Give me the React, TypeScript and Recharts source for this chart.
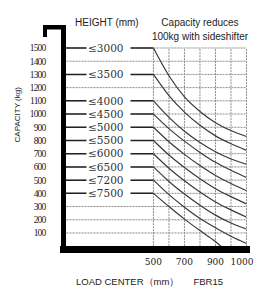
import {
  ComposedChart,
  Line,
  XAxis,
  YAxis,
  CartesianGrid,
  ReferenceLine,
} from "recharts";

// lift height rows (mm) and the rated capacity each one starts at (kg)
const heightLabels = [
  "≤3000",
  "≤3500",
  "≤4000",
  "≤4500",
  "≤5000",
  "≤5500",
  "≤6000",
  "≤6500",
  "≤7200",
  "≤7500",
];
const ratedCapacity = [1500, 1300, 1100, 1000, 900, 800, 700, 600, 500, 400];

const capacityTicks = [
  100, 200, 300, 400, 500, 600, 700, 800, 900, 1000, 1100, 1200, 1300, 1400,
  1500,
];

// load-center gridlines, left to right, and the labels printed under them
const gridCols = [0, 1, 2, 3, 4, 5, 6];
const xTickPos = [0, 2, 4, 6];
const xTickText = ["500", "700", "900", "1000"];

// capacity read at each gridline for every height row
const cap3000 = [1500, 1290, 1130, 1020, 935, 875, 830];
const cap3500 = [1300, 1140, 1015, 915, 835, 775, 725];
const cap4000 = [1100, 975, 870, 785, 715, 660, 620];
const cap4500 = [1000, 890, 795, 710, 635, 575, 520];
const cap5000 = [900, 790, 695, 610, 535, 475, 420];
const cap5500 = [800, 690, 595, 510, 435, 375, 320];
const cap6000 = [700, 590, 495, 410, 335, 275, 220];
const cap6500 = [600, 490, 395, 310, 235, 175, 130];
const cap7200 = [500, 390, 295, 210, 140, 75, 20];
const cap7500 = [400, 300, 205, 118, 35, 0];
const cap7500Pos = [0, 1, 2, 3, 4, 4.35];

const curveValues = [
  cap3000,
  cap3500,
  cap4000,
  cap4500,
  cap5000,
  cap5500,
  cap6000,
  cap6500,
  cap7200,
  cap7500,
];

const AXIS_START = -5.8;
const X_END = 6;

const SERIF = "'Liberation Serif', serif";
const SANS = "'Liberation Sans', Arial, sans-serif";

function AxisDecor(props: any) {
  const vb = props.viewBox || {};
  const right = vb.x + vb.width;
  const cy = vb.y + vb.height * 0.4;
  return (
    <g>
      <rect x={right - 20.5} y={vb.y} width={23} height={4.5} fill="#000" />
      <rect x={right - 20.5} y={vb.y} width={4} height={12} fill="#000" />
      <text
        x={vb.x + 10}
        y={cy}
        transform={`rotate(-90 ${vb.x + 10} ${cy})`}
        textAnchor="middle"
        dominantBaseline="central"
        fontFamily={SANS}
        fontSize={8}
        fill="#222"
      >
        CAPACITY (kg)
      </text>
    </g>
  );
}

function rowLabel(text: string) {
  return (p: any) => {
    if (p.index !== 0) return null;
    return (
      <g key={text}>
        <rect x={p.x + 23} y={p.y - 6} width={44} height={12} fill="#fff" />
        <text
          x={p.x + 24.5}
          y={p.y}
          dy="0.35em"
          fontFamily="'DejaVu Serif', serif"
          fontSize={10.5}
          fill="#333"
        >
          {text}
        </text>
      </g>
    );
  };
}

function XTick(props: any) {
  const { x, y, payload } = props;
  const idx = xTickPos.indexOf(payload.value);
  const text = xTickText[idx] ?? "";
  // the last label sits against the right edge, keep it inside the page
  const last = idx === xTickPos.length - 1;
  return (
    <text
      x={last ? x + 7 : x}
      y={y}
      dy="0.71em"
      textAnchor={last ? "end" : "middle"}
      fontFamily="'DejaVu Serif', serif"
      fontSize={9}
      fill="#222"
    >
      {text}
    </text>
  );
}

export default function App() {
  return (
    <div style={{ position: "relative", width: 246, height: 280 }}>
      <ComposedChart
        width={246}
        height={280}
        margin={{ top: 17, right: 7.5, left: 0, bottom: 18.5 }}
      >
        <CartesianGrid
          vertical={false}
          horizontalValues={capacityTicks}
          stroke="#8a8a8a"
          strokeDasharray="2 1"
        />
        <XAxis
          type="number"
          dataKey="x"
          domain={[AXIS_START, X_END]}
          ticks={xTickPos}
          interval={0}
          axisLine={{ stroke: "#000", strokeWidth: 7, strokeLinecap: "square" }}
          tickLine={false}
          tickSize={0}
          tickMargin={9}
          height={20}
          tick={<XTick />}
          allowDataOverflow
        />
        <YAxis
          type="number"
          domain={[-25, 1674]}
          ticks={capacityTicks}
          interval={0}
          width={55.5}
          axisLine={{ stroke: "#000", strokeWidth: 5 }}
          tickLine={false}
          tickSize={0}
          tickMargin={18}
          tick={{
            fontFamily: SERIF,
            fontSize: 9.5,
            fill: "#222",
            letterSpacing: -0.8,
          }}
          label={<AxisDecor />}
          allowDataOverflow
        />
        {gridCols.map((c) => (
          <ReferenceLine
            key={`v${c}`}
            segment={[
              { x: c, y: 0 },
              { x: c, y: 1500 },
            ]}
            stroke="#8a8a8a"
            strokeDasharray="2 1"
          />
        ))}
        {ratedCapacity.map((q, i) => (
          <Line
            key={`row${i}`}
            data={[
              { x: AXIS_START, y: q },
              { x: 0, y: q },
            ]}
            dataKey="y"
            type="linear"
            stroke="#222"
            strokeWidth={1.5}
            dot={false}
            activeDot={false}
            isAnimationActive={false}
            label={rowLabel(heightLabels[i])}
          />
        ))}
        {curveValues.map((vals, i) => {
          const pos = vals === cap7500 ? cap7500Pos : gridCols;
          return (
            <Line
              key={`curve${i}`}
              data={vals.map((v, j) => ({ x: pos[j], y: v }))}
              dataKey="y"
              type="monotone"
              stroke="#3a3a3a"
              strokeWidth={1.2}
              dot={false}
              activeDot={false}
              isAnimationActive={false}
            />
          );
        })}
      </ComposedChart>

      <div
        style={{
          position: "absolute",
          left: 67,
          top: 9,
          fontFamily: SANS,
          fontSize: 10,
          color: "#222",
          whiteSpace: "nowrap",
        }}
      >
        HEIGHT (mm)
      </div>
      <div
        style={{
          position: "absolute",
          left: 137,
          width: 110,
          top: 8,
          fontFamily: SANS,
          fontSize: 10,
          lineHeight: "14px",
          color: "#222",
          textAlign: "center",
          whiteSpace: "nowrap",
        }}
      >
        Capacity reduces
        <br />
        100kg with sideshifter
      </div>
      <div
        style={{
          position: "absolute",
          left: 68,
          top: 268,
          fontFamily: SANS,
          fontSize: 9.5,
          lineHeight: "11px",
          color: "#222",
          whiteSpace: "nowrap",
        }}
      >
        LOAD CENTER（mm）
        <span style={{ marginLeft: 14 }}>FBR15</span>
      </div>
    </div>
  );
}
